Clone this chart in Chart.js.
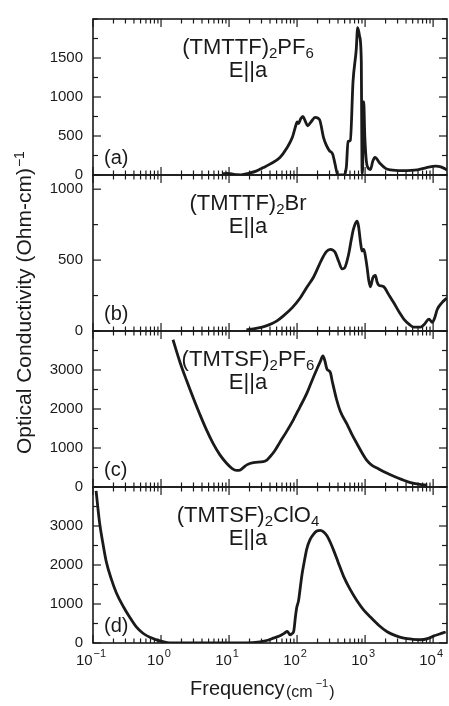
<!DOCTYPE html>
<html><head><meta charset="utf-8">
<script src="https://cdn.jsdelivr.net/npm/chart.js@4/dist/chart.umd.min.js"></script>
<style>html,body{margin:0;padding:0;background:#fff}canvas{display:block}</style>
</head><body>
<canvas id="c" width="449" height="706"></canvas>
<script>
const FONT = "'Liberation Sans', Arial, Helvetica, sans-serif";
const INK = '#1a1a1a';

// ---- data (frequency in cm^-1, optical conductivity in (Ohm-cm)^-1) ----
const freqA = [8, 9.5, 11, 13, 15, 20, 25, 32, 40, 56, 70, 85, 97, 100, 105, 113, 122, 132, 143, 160, 185, 214, 245, 270, 300, 333, 360, 394, 420, 483, 530, 561, 607, 665, 740, 778, 830, 880, 900, 915, 935, 955, 990, 1070, 1197, 1300, 1400, 1650, 2000, 2360, 3500, 5850, 8000, 10900, 13000, 16000];
const condA = [15, 20, 15, 3, 2, 25, 50, 95, 140, 225, 340, 480, 650, 680, 660, 720, 750, 690, 630, 680, 740, 710, 480, 380, 310, 270, 150, 5, 0, 0, 100, 430, 445, 1200, 1600, 1890, 1780, 1450, 100, 20, 500, 940, 500, 120, 70, 180, 225, 150, 85, 65, 55, 65, 95, 115, 105, 65];

const freqB = [18, 25, 36, 50, 63, 85, 111, 140, 175, 232, 270, 308, 340, 365, 410, 458, 500, 573, 630, 679, 760, 800, 853, 902, 955, 1000, 1070, 1130, 1197, 1300, 1419, 1500, 1586, 1880, 2200, 2640, 3200, 3710, 4500, 5210, 6540, 7500, 8680, 9730, 10500, 11530, 13500, 16000];
const condB = [8, 18, 38, 70, 107, 165, 233, 310, 381, 507, 560, 575, 568, 552, 490, 438, 445, 541, 650, 723, 774, 740, 632, 564, 575, 540, 449, 360, 312, 375, 392, 345, 324, 312, 260, 199, 130, 84, 45, 27, 27, 50, 84, 61, 90, 153, 200, 233];

const freqC = [1.5, 1.9, 2.37, 3.0, 3.73, 4.7, 5.85, 7.3, 9.2, 11, 12.9, 14.5, 16.5, 18.2, 22.8, 32, 36, 40, 47, 56, 70, 89, 110, 139, 165, 196, 220, 240, 255, 275, 308, 330, 380, 432, 542, 640, 760, 900, 1070, 1250, 1500, 2000, 2640, 3500, 4660, 6300, 8200];
const condC = [3775, 3200, 2735, 2270, 1860, 1450, 1110, 830, 610, 480, 425, 432, 510, 567, 625, 650, 690, 775, 930, 1150, 1420, 1735, 2050, 2400, 2720, 3025, 3220, 3360, 3250, 3025, 2940, 2700, 2250, 1940, 1610, 1350, 1110, 880, 675, 560, 485, 370, 275, 190, 110, 70, 50];

const freqD = [0.111, 0.125, 0.14, 0.157, 0.185, 0.22, 0.28, 0.345, 0.43, 0.543, 0.7, 0.855, 1.1, 1.34, 1.8, 5, 18, 28.6, 37, 44.9, 55, 65, 72, 79, 84, 89, 95, 99, 105, 112, 118, 128, 139, 155, 175, 195, 219, 245, 275, 310, 345, 400, 483, 600, 760, 950, 1197, 1600, 2110, 2800, 3710, 5000, 6540, 8500, 10300, 12500, 15300];
const condD = [3900, 3080, 2550, 2080, 1650, 1290, 930, 665, 420, 250, 140, 82, 30, 5, 0, 0, 0, 30, 70, 125, 180, 250, 300, 208, 240, 290, 700, 915, 1080, 1450, 1750, 2100, 2415, 2650, 2790, 2870, 2890, 2850, 2750, 2570, 2375, 2080, 1708, 1380, 1083, 850, 665, 450, 290, 190, 125, 95, 83, 120, 183, 230, 283];

// ---- tick labels ----
const xTickExponents = [-1, 0, 1, 2, 3, 4];
const yTicksA = [0, 500, 1000, 1500];
const yTicksB = [0, 500, 1000];
const yTicksC = [0, 1000, 2000, 3000];
const yTicksD = [0, 1000, 2000, 3000];

// ---- panel texts ----
const titleA = [['(TMTTF)', 0], ['2', 1], ['PF', 0], ['6', 1]];
const titleB = [['(TMTTF)', 0], ['2', 1], ['Br', 0]];
const titleC = [['(TMTSF)', 0], ['2', 1], ['PF', 0], ['6', 1]];
const titleD = [['(TMTSF)', 0], ['2', 1], ['ClO', 0], ['4', 1]];
const polarization = 'E||a';
const panelLetters = ['(a)', '(b)', '(c)', '(d)'];

const panels = [
  {id: 'ya', freq: freqA, cond: condA, max: 2000, ticks: yTicksA, minor: 250, title: titleA},
  {id: 'yb', freq: freqB, cond: condB, max: 1100, ticks: yTicksB, minor: 250, title: titleB},
  {id: 'yc', freq: freqC, cond: condC, max: 4000, ticks: yTicksC, minor: 500, title: titleC},
  {id: 'yd', freq: freqD, cond: condD, max: 4000, ticks: yTicksD, minor: 500, title: titleD}
];

const scales = {
  x: {type: 'logarithmic', min: 0.1, max: 16000, display: false}
};
// stacked axes are laid out bottom-up, so add them in reverse order
panels.slice().reverse().forEach(p => {
  scales[p.id] = {
    type: 'linear', position: 'left', stack: 'panels', stackWeight: 1,
    min: 0, max: p.max,
    grid: {display: false, drawTicks: false},
    border: {display: false},
    afterBuildTicks: s => { s.ticks = p.ticks.map(v => ({value: v})); },
    afterFit: s => { s.width = 93; },
    ticks: {autoSkip: false, padding: 10, color: INK, font: {family: FONT, size: 15},
            callback: v => String(v)}
  };
});

const datasets = panels.map(p => ({
  data: p.freq.map((f, i) => ({x: f, y: p.cond[i]})),
  yAxisID: p.id, xAxisID: 'x',
  borderColor: INK, borderWidth: 2.8, pointRadius: 0,
  cubicInterpolationMode: 'monotone', fill: false
}));

function seg(ctx, x1, y1, x2, y2) { ctx.beginPath(); ctx.moveTo(x1, y1); ctx.lineTo(x2, y2); ctx.stroke(); }

const deco = {
  id: 'deco',
  afterDatasetsDraw(chart) {
    const ctx = chart.ctx, xs = chart.scales.x, ca = chart.chartArea;
    ctx.save();
    ctx.strokeStyle = INK;
    panels.forEach(p => {
      const ys = chart.scales[p.id];
      const top = ys.top, bot = ys.bottom, L = ca.left, R = ca.right;
      ctx.lineWidth = 1.2;
      for (let e = -1; e <= 4; e++) {
        for (let m = 1; m <= 9; m++) {
          const v = m * Math.pow(10, e);
          if (v < xs.min || v > xs.max) continue;
          const px = xs.getPixelForValue(v);
          const len = m === 1 ? 8 : 4.5;
          seg(ctx, px, bot, px, bot - len);
          seg(ctx, px, top, px, top + len);
        }
      }
      for (let v = 0; v <= p.max; v += p.minor) {
        const py = ys.getPixelForValue(v);
        const len = p.ticks.includes(v) ? 8 : 5;
        seg(ctx, L, py, L + len, py);
        seg(ctx, R, py, R - len, py);
      }
      ctx.lineWidth = 1.6;
      ctx.strokeRect(L, top, R - L, bot - top);
    });
    ctx.restore();
  },
  afterDraw(chart) {
    const ctx = chart.ctx, xs = chart.scales.x, ca = chart.chartArea;
    ctx.save();
    ctx.fillStyle = INK;
    ctx.textBaseline = 'alphabetic';
    panels.forEach((p, i) => {
      const ys = chart.scales[p.id];
      const cx = 248;
      let w = 0;
      p.title.forEach(([t, sub]) => { ctx.font = (sub ? 15 : 22) + 'px ' + FONT; w += ctx.measureText(t).width; });
      let x = cx - w / 2;
      const by = ys.top + 35;
      ctx.textAlign = 'left';
      p.title.forEach(([t, sub]) => {
        ctx.font = (sub ? 15 : 22) + 'px ' + FONT;
        ctx.fillText(t, x, sub ? by + 4 : by);
        x += ctx.measureText(t).width;
      });
      ctx.font = '22px ' + FONT;
      ctx.textAlign = 'center';
      ctx.fillText(polarization, cx, ys.top + 58);
      ctx.font = '20px ' + FONT;
      ctx.textAlign = 'left';
      ctx.fillText(panelLetters[i], 104, ys.bottom - 11);
    });
    xTickExponents.forEach(e => {
      const px = xs.getPixelForValue(Math.pow(10, e));
      const exp = e < 0 ? '\u2212' + Math.abs(e) : String(e);
      ctx.font = '15px ' + FONT;
      const w1 = ctx.measureText('10').width;
      ctx.font = '11px ' + FONT;
      const w2 = ctx.measureText(exp).width;
      const x0 = px - (w1 + 1 + w2) / 2 - 2;
      ctx.textAlign = 'left';
      ctx.font = '15px ' + FONT;
      ctx.fillText('10', x0, ca.bottom + 22);
      ctx.font = '11px ' + FONT;
      ctx.fillText(exp, x0 + w1 + 1, ca.bottom + 14);
    });
    ctx.textAlign = 'left';
    ctx.font = '20px ' + FONT;
    ctx.fillText('Frequency', 190, 695);
    ctx.font = '16px ' + FONT;
    let tx = 286;
    ctx.fillText('(cm', tx, 697);
    tx += ctx.measureText('(cm').width + 3;
    ctx.font = '11px ' + FONT;
    ctx.fillText('\u22121', tx, 687);
    tx += ctx.measureText('\u22121').width + 1;
    ctx.font = '16px ' + FONT;
    ctx.fillText(')', tx, 697);
    ctx.save();
    ctx.translate(31, 454);
    ctx.rotate(-Math.PI / 2);
    ctx.font = '21px ' + FONT;
    const main = 'Optical Conductivity (Ohm-cm)';
    ctx.fillText(main, 0, 0);
    const mw = ctx.measureText(main).width;
    ctx.font = '14px ' + FONT;
    ctx.fillText('\u22121', mw + 1, -7);
    ctx.restore();
    ctx.restore();
  }
};

new Chart(document.getElementById('c'), {
  type: 'line',
  data: {datasets},
  options: {
    responsive: false, animation: false, devicePixelRatio: 1,
    layout: {padding: {top: 2, right: 2, bottom: 63, left: 0}},
    plugins: {legend: {display: false}, tooltip: {enabled: false}},
    scales
  },
  plugins: [deco]
});
</script>
</body></html>
